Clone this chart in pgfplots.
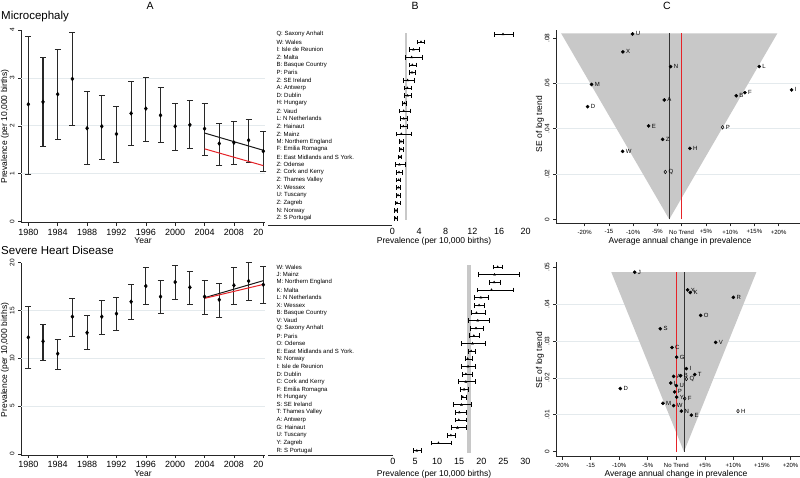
\documentclass[border=0pt]{standalone}
\usepackage{fontspec}
\setmainfont{Liberation Sans}
\usepackage{pgfplots}
\usepackage{pgfplotstable}
\pgfplotsset{compat=1.18}
\definecolor{gridc}{RGB}{228,234,237}
\definecolor{funnel}{RGB}{200,200,200}
\definecolor{trendred}{RGB}{230,35,40}
\definecolor{barc}{RGB}{40,40,40}
\newcommand{\fs}[1]{\fontsize{#1}{#1}\selectfont}

\pgfplotstableread{
year v lo hi
1980 2.45 0.99 3.87
1982 2.50 1.56 3.42
1984 2.66 1.72 3.60
1986 2.98 2.01 3.94
1988 1.95 1.19 2.72
1990 1.99 1.30 2.63
1992 1.83 1.23 2.40
1994 2.26 1.60 2.92
1996 2.36 1.67 3.01
1998 2.22 1.65 2.80
2000 1.99 1.49 2.47
2002 2.02 1.52 2.53
2004 1.94 1.39 2.46
2006 1.63 1.17 2.06
2008 1.65 1.19 2.10
2010 1.70 1.23 2.14
2012 1.47 1.04 1.88
}\microA

\pgfplotstableread{
year v lo hi
1980 12.20 8.95 15.40
1982 11.78 9.83 13.55
1984 10.49 8.82 12.02
1986 14.36 12.33 16.27
1988 12.68 10.91 14.46
1990 14.36 12.51 16.03
1992 14.67 12.96 16.34
1994 15.92 14.11 17.73
1996 17.56 15.64 19.48
1998 16.45 14.67 18.12
2000 17.98 16.20 19.72
2002 17.42 15.64 19.06
2004 16.45 14.60 18.19
2006 16.13 14.29 17.84
2008 17.63 15.68 19.55
2010 18.08 16.06 20.00
2012 17.70 15.71 19.65
}\heartA

\pgfplotstableread{
r v lo hi
25 16.6 15.3 18.1
24 4.3 3.8 4.8
23 3.15 2.55 4.05
22 2.9 1.95 4.55
21 3.0 2.55 3.65
20 2.95 2.5 3.45
19 2.3 1.65 3.3
18 2.25 1.8 2.8
17 2.3 1.85 2.8
16 1.8 1.55 2.15
15 1.7 1.1 2.65
14 1.7 1.2 2.3
13 1.65 1.15 2.2
12 1.35 0.6 2.85
11 1.3 1.0 1.7
10 1.3 1.0 1.6
9 1.15 0.95 1.35
8 1.05 0.5 1.95
7 1.0 0.65 1.5
6 0.95 0.65 1.25
5 0.9 0.6 1.25
4 0.85 0.6 1.2
3 0.7 0.4 1.2
2 0.55 0.35 0.75
1 0.5 0.3 0.8
}\microB

\pgfplotstableread{
r v lo hi
25 23.7 22.8 24.8
24 23.0 19.3 28.6
23 22.9 21.8 24.2
22 22.3 19.0 27.2
21 19.9 18.5 21.6
20 19.5 18.4 20.7
19 18.9 17.7 20.8
18 19.2 17.1 21.7
17 18.8 17.4 20.5
16 18.3 17.3 19.5
15 18.0 15.5 20.9
14 17.7 17.1 18.7
13 16.9 16.3 17.9
12 17.0 15.5 18.6
11 16.5 15.6 17.9
10 16.5 14.7 18.6
9 16.1 15.2 17.1
8 15.8 15.4 16.7
7 15.5 13.7 17.8
6 15.0 14.1 16.5
5 14.9 14.0 16.5
4 14.6 13.2 16.5
3 13.1 12.4 14.1
2 10.3 8.6 13.1
1 5.4 4.7 6.3
}\heartB

\pgfplotstableread{
x y lab
-10.11 0.0818 U
-12.10 0.0739 X
-2.27 0.0674 N
16.01 0.0674 L
-18.56 0.0595 M
22.67 0.0571 I
13.05 0.0559 F
11.26 0.0545 B
-19.39 0.0497 D
-3.58 0.0527 A
-6.81 0.0412 E
-3.92 0.0353 Z
1.71 0.0313 H
-12.17 0.0300 W
}\microC
\pgfplotstableread{
x y lab
8.45 0.0406 P
-3.37 0.0209 Q
}\microCh

\pgfplotstableread{
x y lab
-7.30 0.0486 J
1.98 0.0438 X
2.45 0.0431 K
9.98 0.0418 R
4.26 0.0369 O
-2.80 0.0333 S
6.89 0.0296 V
-0.76 0.0282 C
0.06 0.0256 G
1.75 0.0225 I
3.21 0.0209 T
-0.47 0.0204 A
0.76 0.0206 B
-0.99 0.0186 L
0.00 0.0179 U
-0.29 0.0162 P
0.06 0.0148 Y
-2.34 0.0131 M
-0.47 0.0125 W
0.88 0.0110 N
2.63 0.0099 E
-9.81 0.0171 D
}\heartC
\pgfplotstableread{
x y lab
1.75 0.0197 Q
1.46 0.0144 F
10.80 0.0110 H
}\heartCh

\pgfplotsset{
  mybase/.style={scale only axis, anchor=south west, clip=false,
    /pgf/number format/assume math mode=true,
    scaled x ticks=false, scaled y ticks=false,
    tick align=outside, major tick length=3pt,
    every non boxed x axis/.append style={x axis line style=-},
    every non boxed y axis/.append style={y axis line style=-},
    axis line style={line width=0.6pt, black!85},
    every tick/.style={line width=0.6pt, black!85},
    grid style={gridc, line width=0.7pt}},
  aerr/.style={only marks, mark=diamond*, mark size=2pt, black,
    error bars/.cd, y dir=both, y explicit,
    error bar style={line width=1.1pt, barc},
    error mark options={rotate=90, mark size=3pt, line width=0.9pt, barc}},
  berr/.style={only marks, mark=triangle*, mark size=1.2pt, black,
    error bars/.cd, x dir=both, x explicit,
    error bar style={line width=0.6pt, black},
    error mark options={rotate=90, mark size=2.4pt, line width=0.6pt, black}},
  cpts/.style={only marks, mark=*, mark size=1.6pt, black,
    nodes near coords, point meta=explicit symbolic,
    nodes near coords style={anchor=west, font=\fs{6}, inner sep=0.5pt, xshift=2.5pt, black}},
  cptsh/.style={only marks, mark=diamond, mark size=1.8pt, black, mark options={fill=white, line width=0.5pt},
    nodes near coords, point meta=explicit symbolic,
    nodes near coords style={anchor=west, font=\fs{6}, inner sep=0.5pt, xshift=2.5pt, black}},
}

\begin{document}
\begin{tikzpicture}[x=1pt,y=1pt]
\useasboundingbox (0pt,0pt) rectangle (800pt,478pt);
\fill[white] (0pt,0pt) rectangle (800pt,478pt);

% ---------- titles ----------
\node[font=\fs{10.5}] at (150pt,472.5pt) {A};
\node[font=\fs{10.5}] at (415pt,472.5pt) {B};
\node[font=\fs{10.5}] at (667pt,472.5pt) {C};
\node[anchor=west, font=\fs{11.5}, inner sep=0pt] at (1pt,461pt) {Microcephaly};
\node[anchor=west, font=\fs{11.5}, inner sep=0pt] at (1pt,228pt) {Severe Heart Disease};

\node[font=\fs{8.5}] at (143pt,237.5pt) {Year};
\node[font=\fs{8.5}] at (143pt,4.7pt) {Year};
\node[font=\fs{8.5}, rotate=90] at (5pt,351.5pt) {Prevalence (per 10,000 births)};
\node[font=\fs{8.5}, rotate=90] at (5pt,118pt) {Prevalence (per 10,000 births)};
\node[font=\fs{8.5}] at (434pt,237pt) {Prevalence (per 10,000 births)};
\node[font=\fs{8.5}] at (434pt,4pt) {Prevalence (per 10,000 births)};
\node[font=\fs{8.5}] at (680pt,237pt) {Average annual change in prevalence};
\node[font=\fs{8.5}] at (676pt,4pt) {Average annual change in prevalence};
\node[font=\fs{8.5}, rotate=90] at (540pt,354pt) {SE of log trend};
\node[font=\fs{8.5}, rotate=90] at (540pt,118pt) {SE of log trend};

% ---------- A top ----------
\begin{axis}[mybase, at={(21pt,255.3pt)}, width=244pt, height=192.7pt,
  xmin=1979.0, xmax=2012.23, ymin=-0.021, ymax=4,
  axis x line*=bottom, axis y line*=left,
  xtick={1980,1984,...,2012},
  xticklabels={1980,1984,1988,1992,1996,2000,2004,2008,{20\phantom{12}}},
  ytick={0,1,2,3,4},
  extra y ticks={1,2,3}, extra y tick labels={},
  extra y tick style={grid=major, major tick length=0pt},
  xticklabel style={font=\fs{9}},
  yticklabel style={rotate=90, anchor=south, font=\fs{6.5}}]
\addplot[aerr] table[x=year, y=v, y error plus expr=\thisrow{hi}-\thisrow{v}, y error minus expr=\thisrow{v}-\thisrow{lo}] {\microA};
\addplot[black!90, line width=1pt] coordinates {(2004,1.85) (2012,1.49)};
\addplot[trendred, line width=1pt] coordinates {(2004,1.52) (2012,1.17)};
\end{axis}

% ---------- A bottom ----------
\begin{axis}[mybase, at={(21pt,23pt)}, width=244pt, height=192.3pt,
  xmin=1979.0, xmax=2012.23, ymin=-0.105, ymax=20,
  axis x line*=bottom, axis y line*=left,
  xtick={1980,1984,...,2012},
  xticklabels={1980,1984,1988,1992,1996,2000,2004,2008,{20\phantom{12}}},
  ytick={0,5,10,15,20},
  extra y ticks={5,10,15}, extra y tick labels={},
  extra y tick style={grid=major, major tick length=0pt},
  xticklabel style={font=\fs{9}},
  yticklabel style={rotate=90, anchor=south, font=\fs{6.5}}]
\addplot[aerr] table[x=year, y=v, y error plus expr=\thisrow{hi}-\thisrow{v}, y error minus expr=\thisrow{v}-\thisrow{lo}] {\heartA};
\addplot[black!90, line width=1pt] coordinates {(2004,16.34) (2012,18.12)};
\addplot[trendred, line width=1pt] coordinates {(2004,16.27) (2012,17.73)};
\end{axis}

% ---------- B top ----------
\begin{axis}[mybase, at={(268pt,253pt)}, width=261pt, height=195pt,
  xmin=-18.65, xmax=20.5, ymin=0.126, ymax=25.56,
  axis line style={draw=none}, major tick length=0pt, every tick/.style={draw=none},
  xtick={0,4,...,20}, ytick={1,2,...,25},
  yticklabels={{Z: S Portugal},{N: Norway},{Z: Zagreb},{U: Tuscany},{X: Wessex},{Z: Thames Valley},{Z: Cork and Kerry},{Z: Odense},{E: East Midlands and S York.},{F: Emilia Romagna},{M: Northern England},{Z: Mainz},{Z: Hainaut},{L: N Netherlands},{Z: Vaud},{H: Hungary},{D: Dublin},{A: Antwerp},{Z: SE Ireland},{P: Paris},{B: Basque Country},{Z: Malta},{I: Isle de Reunion},{W: Wales},{Q: Saxony Anhalt}},
  yticklabel style={anchor=west, xshift=5pt, font=\fs{6}},
  xticklabel style={font=\fs{9}}]
\addplot[funnel, line width=2.7pt] coordinates {(2.05,0.78) (2.05,25.2)};
\addplot[black!85, line width=0.6pt] coordinates {(-18.65,0.126) (0,0.126)};
\addplot[berr] table[x=v, y=r, x error plus expr=\thisrow{hi}-\thisrow{v}, x error minus expr=\thisrow{v}-\thisrow{lo}] {\microB};
\end{axis}

% ---------- B bottom ----------
\begin{axis}[mybase, at={(268pt,23pt)}, width=261.9pt, height=193pt,
  xmin=-28.3, xmax=31, ymin=0.438, ymax=25.65,
  axis line style={draw=none}, major tick length=0pt, every tick/.style={draw=none},
  xtick={0,5,...,30}, ytick={1,2,...,25},
  yticklabels={{R: S Portugal},{Y: Zagreb},{U: Tuscany},{G: Hainaut},{A: Antwerp},{T: Thames Valley},{S: SE Ireland},{H: Hungary},{F: Emilia Romagna},{C: Cork and Kerry},{D: Dublin},{I: Isle de Reunion},{N: Norway},{E: East Midlands and S York.},{O: Odense},{P: Paris},{Q: Saxony Anhalt},{V: Vaud},{B: Basque Country},{X: Wessex},{L: N Netherlands},{K: Malta},{M: Northern England},{J: Mainz},{W: Wales}},
  yticklabel style={anchor=west, xshift=5pt, font=\fs{6}},
  xticklabel style={font=\fs{9}}]
\addplot[funnel, line width=4.3pt] coordinates {(17.2,0.75) (17.2,25.2)};
\addplot[black!85, line width=0.6pt] coordinates {(-28.3,0.438) (0,0.438)};
\addplot[berr] table[x=v, y=r, x error plus expr=\thisrow{hi}-\thisrow{v}, x error minus expr=\thisrow{v}-\thisrow{lo}] {\heartB};
\end{axis}

% ---------- C top ----------
\begin{axis}[mybase, at={(556pt,254.7pt)}, width=243.9pt, height=193.4pt,
  xmin=-25.9, xmax=24.39, ymin=-0.00177, ymax=0.0836,
  axis x line*=bottom, axis y line*=left,
  xtick={-20,-15,...,20},
  xticklabels={-20\%,-15,-10\%,-5\%,No Trend,+5\%,+10\%,+15\%,+20\%},
  ytick={0,0.02,0.04,0.06,0.08}, yticklabels={0,.02,.04,.06,.08},
  extra y ticks={0.02,0.04,0.06}, extra y tick labels={},
  extra y tick style={grid=major, major tick length=0pt},
  xticklabel style={font=\fs{6}},
  yticklabel style={rotate=90, anchor=south, font=\fs{6.5}}]
\addplot[fill=funnel, draw=none] coordinates {(-24.85,0.0821) (19.75,0.0821) (-2.55,0) (-24.85,0.0821)};
\addplot[black!80, line width=0.9pt] coordinates {(-2.55,0) (-2.55,0.0821)};
\addplot[trendred, line width=0.9pt] coordinates {(0,0) (0,0.0821)};
\addplot[cpts] table[x=x, y=y, meta=lab] {\microC};
\addplot[cptsh] table[x=x, y=y, meta=lab] {\microCh};
\end{axis}

% ---------- C bottom ----------
\begin{axis}[mybase, at={(556pt,21.3pt)}, width=244pt, height=194.8pt,
  xmin=-21.07, xmax=21.66, ymin=-0.00135, ymax=0.0514,
  axis x line*=bottom, axis y line*=left,
  xtick={-20,-15,...,20},
  xticklabels={-20\%,-15,-10\%,-5\%,No Trend,+5\%,+10\%,+15\%,+20\%},
  ytick={0,0.01,0.02,0.03,0.04,0.05}, yticklabels={0,.01,.02,.03,.04,.05},
  extra y ticks={0.01,0.02,0.03,0.04}, extra y tick labels={},
  extra y tick style={grid=major, major tick length=0pt},
  xticklabel style={font=\fs{6}},
  yticklabel style={rotate=90, anchor=south, font=\fs{6.5}}]
\addplot[fill=funnel, draw=none] coordinates {(-11.38,0.0486) (14.01,0.0486) (1.34,0) (-11.38,0.0486)};
\addplot[black!80, line width=0.9pt] coordinates {(1.34,0) (1.34,0.0486)};
\addplot[trendred, line width=0.9pt] coordinates {(0,0) (0,0.0486)};
\addplot[cpts] table[x=x, y=y, meta=lab] {\heartC};
\addplot[cptsh] table[x=x, y=y, meta=lab] {\heartCh};
\end{axis}
\end{tikzpicture}
\end{document}
